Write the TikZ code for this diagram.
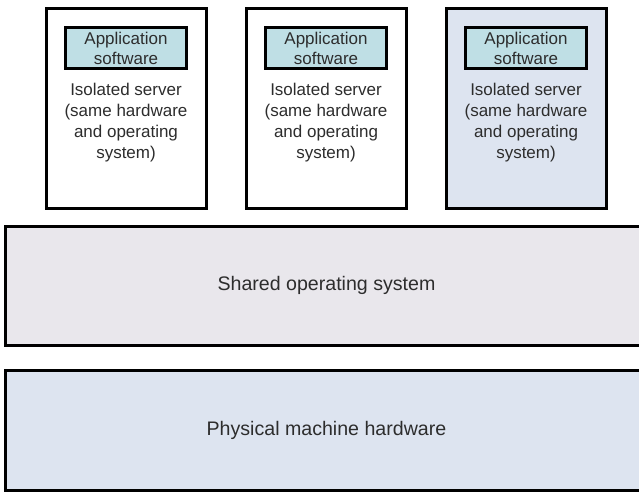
\documentclass[tikz,border=0pt]{standalone}
\usepackage{fontspec}
\setmainfont{Liberation Sans}
\usetikzlibrary{positioning}
\definecolor{appfill}{RGB}{191,223,229}
\definecolor{hwfill}{RGB}{221,228,240}
\definecolor{osfill}{RGB}{233,231,236}
\definecolor{txtgray}{RGB}{45,45,45}
\tikzset{
  server/.style={draw=black,line width=3pt,minimum width=160pt,minimum height=200pt,inner sep=0pt},
  appbox/.style={draw=black,line width=2.5pt,fill=appfill,minimum width=121pt,minimum height=41pt,
    inner sep=0pt,align=center,text=txtgray,font=\fontsize{17}{19.5}\selectfont},
  srvtext/.style={inner sep=0pt,align=center,text=txtgray,font=\fontsize{17}{21}\selectfont},
  layer/.style={draw=black,line width=3pt,minimum width=643pt,inner sep=0pt,
    text=txtgray,font=\fontsize{19.6}{23}\selectfont}
}

\begin{document}
\begin{tikzpicture}[x=1pt,y=-1pt]

    \useasboundingbox (0,0) rectangle (639,492); % page size of the reference
    \clip (0,0) rectangle (639,492);

    % three isolated servers side by side
    \foreach \i/\fc in {1/white,2/white,3/hwfill}{%
      \node[server,fill=\fc] (srv\i) at ({126+200*(\i-1)},108.5) {};
      \node[appbox,below=19.5pt of srv\i.north] (app\i) {Application\\software};
      \node[srvtext,below=13pt of app\i] (iso\i)
        {Isolated server\\(same hardware\\and operating\\system)};
    }

    % shared layers underneath
    \node[layer,fill=osfill,minimum height=119pt] (os) at (326.5,285.5) {Shared operating system};
    \node[layer,fill=hwfill,minimum height=120pt] (hw) at (326.5,430) {Physical machine hardware};

\end{tikzpicture}
\end{document}
